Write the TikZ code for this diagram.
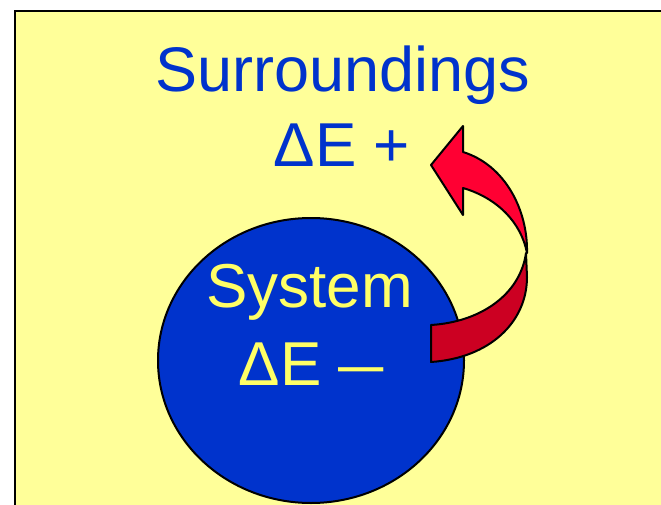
\documentclass[tikz,border=0pt]{standalone}
\usepackage{fontspec}
\usetikzlibrary{shapes.geometric}
\setmainfont{Liberation Sans}
\definecolor{bgyellow}{HTML}{FFFF99}
\definecolor{sysblue}{HTML}{0033CC}
\definecolor{txtyellow}{HTML}{FFFF66}
\definecolor{arrowred}{HTML}{FF0033}
\definecolor{arrowdark}{HTML}{CC0022}
\begin{document}
\begin{tikzpicture}[x=1pt,y=-1pt,
  label/.style={inner sep=0pt, anchor=base},
  outline/.style={draw=black, line width=2pt, line join=round}]
\clip (0,0) rectangle (661,505);
\fill[white] (0,0) rectangle (661,505);
% background
\draw[fill=bgyellow, line width=2.5pt] (15,11) rectangle (700,540);
% system ellipse
\node[outline, fill=sysblue, ellipse, minimum width=306pt, minimum height=285pt, inner sep=0pt] (sys) at (311,360.5) {};
% arrow lower (dark) part
\filldraw[outline, fill=arrowdark] (526,253) .. controls (520,295) and (480,322) .. (431,325)
  -- (431,362) .. controls (490,358) and (527,322) .. (527,277) -- cycle;
% arrow upper (bright) part
\filldraw[outline, fill=arrowred] (431,165) -- (463,126) -- (463,152)
  .. controls (505,165) and (528,210) .. (527,253)
  .. controls (521,222) and (497,198) .. (463,188)
  -- (463,215) -- cycle;
% texts
\node[label, text=sysblue, font=\fontsize{63}{63}\selectfont] (surr) at (342.5,92) {Surroundings};
\node[label, text=sysblue, font=\fontsize{62}{62}\selectfont] (surrE) at (342,167) {ΔE +};
\node[label, text=txtyellow, font=\fontsize{62}{62}\selectfont] (sysname) at (309.5,307) {System};
\node[label, text=txtyellow, font=\fontsize{62}{62}\selectfont] (sysE) at (311.5,385) {ΔE \scalebox{0.73}[1]{—}};
\end{tikzpicture}
\end{document}
